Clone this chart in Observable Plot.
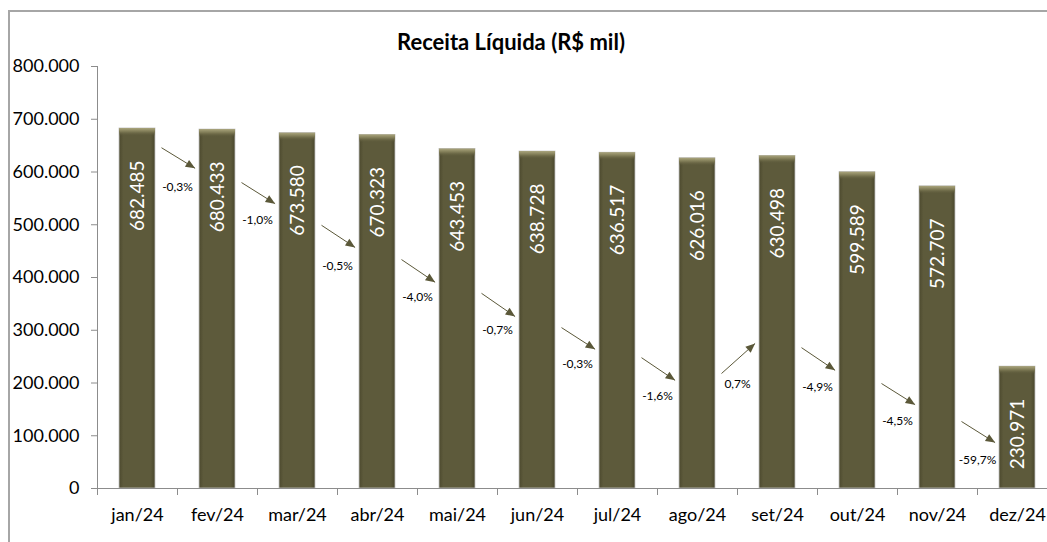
<!DOCTYPE html>
<html>
<head>
<meta charset="utf-8">
<script src="https://cdn.jsdelivr.net/npm/d3@7"></script>
<script src="https://cdn.jsdelivr.net/npm/@observablehq/plot@0.6"></script>
<style>
  html, body { margin: 0; padding: 0; background: #fff; overflow: hidden; }
  #wrap { position: relative; width: 1047px; height: 542px; overflow: hidden; font-family: Lato, "Open Sans", sans-serif; }
  #chart { position: absolute; left: 0; top: 0; }
  #frame { position: absolute; left: 8px; top: 10px; width: 1200px; height: 700px; border: 2px solid #a6a6a6; box-sizing: border-box; pointer-events: none; }
  #title { position: absolute; left: 0; top: 31px; width: 1022px; text-align: center; font-weight: bold; font-size: 22px; line-height: 22px; color: #000; font-family: Lato, "Open Sans", sans-serif; }
</style>
</head>
<body>
<div id="wrap">
  <div id="chart"></div>
  <div id="title">Receita Líquida (R$ mil)</div>
  <div id="frame"></div>
</div>
<script>
// ---- data ----
const months = ["jan/24", "fev/24", "mar/24", "abr/24", "mai/24", "jun/24", "jul/24", "ago/24", "set/24", "out/24", "nov/24", "dez/24"];
const revenue = [682485, 680433, 673580, 670323, 643453, 638728, 636517, 626016, 630498, 599589, 572707, 230971];
const changeLabels = ["-0,3%", "-1,0%", "-0,5%", "-4,0%", "-0,7%", "-0,3%", "-1,6%", "0,7%", "-4,9%", "-4,5%", "-59,7%"];
// arrow annotation levels (value units)
const arrowFrom = [646000, 580000, 499000, 434000, 370000, 305000, 248000, 218000, 267000, 199000, 127000];
const arrowTo = [607000, 540000, 457000, 391000, 326000, 264000, 205000, 275000, 224000, 159000, 87000];
const changeLabelY = [571000, 508000, 421000, 362000, 301000, 235000, 176000, 197000, 192000, 127000, 53000];
const yTicks = [0, 100000, 200000, 300000, 400000, 500000, 600000, 700000, 800000];

// ---- tables ----
const bars = months.map((m, i) => ({i, month: m, value: revenue[i]}));
const changes = changeLabels.map((t, i) => ({i, label: t, y1: arrowFrom[i], y2: arrowTo[i], ly: changeLabelY[i]}));
const monthIdx = months.map((m, i) => i);
const bounds = months.map((m, i) => i - 0.5).concat([months.length - 0.5]);

const fmt = d3.formatLocale({decimal: ",", thousands: ".", grouping: [3], currency: ["R$ ", ""]}).format(",d");

function arrowHead(color, context) {
  const doc = (context && context.document) || document;
  const ns = "http://www.w3.org/2000/svg";
  const m = doc.createElementNS(ns, "marker");
  m.setAttribute("viewBox", "-10 -5 10 10");
  m.setAttribute("markerWidth", "10");
  m.setAttribute("markerHeight", "10");
  m.setAttribute("markerUnits", "userSpaceOnUse");
  m.setAttribute("orient", "auto");
  m.setAttribute("refX", "0");
  m.setAttribute("refY", "0");
  const p = doc.createElementNS(ns, "path");
  p.setAttribute("d", "M-9.5,-4L0,0L-9.5,4Z");
  p.setAttribute("fill", color);
  p.setAttribute("stroke", "none");
  m.appendChild(p);
  return m;
}

const axisGray = "#8c8c8c";
const arrowColor = "#5b5839";

const plot = Plot.plot({
  width: 1047,
  height: 542,
  marginLeft: 97,
  marginTop: 66,
  marginBottom: 54,
  marginRight: 0,
  style: {background: "transparent", fontFamily: "Lato, 'Open Sans', sans-serif", overflow: "hidden"},
  x: {type: "linear", domain: [-0.5, 11.5], range: [97, 1057], label: null},
  y: {domain: [0, 800000], range: [488, 66], label: null},
  marks: [
    Plot.rectY(bars, {x1: d => d.i - 0.225, x2: d => d.i + 0.225, y: "value", fill: "url(#barFill)", stroke: "#c2c2c2", strokeWidth: 0.8}),
    Plot.rect(bars, {x1: d => d.i - 0.225, x2: d => d.i + 0.225, y1: "value", y2: "value", insetBottom: -8, fill: "url(#capFill)"}),
    Plot.text(bars, {x: "i", y: "value", text: d => fmt(d.value), rotate: -90, textAnchor: "end", dy: 32, fill: "#ffffff", fontSize: 19}),
    Plot.link(changes, {x1: d => d.i + 0.3, x2: d => d.i + 0.72, y1: "y1", y2: "y2", stroke: arrowColor, strokeWidth: 1, markerEnd: arrowHead}),
    Plot.text(changes, {x: d => d.i + 0.5, y: "ly", text: "label", fontSize: 12, fill: "#000"}),
    Plot.ruleX([-0.5], {stroke: axisGray}),
    Plot.ruleY([0], {stroke: axisGray}),
    Plot.axisY({ticks: yTicks, tickFormat: fmt, tickSize: 6, tickPadding: 12, fontSize: 18, stroke: axisGray, fill: "#000"}),
    Plot.axisX({ticks: monthIdx, tickFormat: i => months[i], tickSize: 0, tickPadding: 20, fontSize: 18, fill: "#000"}),
    Plot.axisX({ticks: bounds, tickFormat: () => "", tickSize: 7, stroke: axisGray})
  ]
});

// gradients for the bevelled bars
const ns = "http://www.w3.org/2000/svg";
const defs = document.createElementNS(ns, "defs");
defs.innerHTML = `
  <linearGradient id="barFill" x1="0" y1="0" x2="1" y2="0">
    <stop offset="0" stop-color="#4c492e"/>
    <stop offset="0.12" stop-color="#5d5a3b"/>
    <stop offset="0.88" stop-color="#5d5a3b"/>
    <stop offset="1" stop-color="#4a472d"/>
  </linearGradient>
  <linearGradient id="capFill" x1="0" y1="0" x2="0" y2="1">
    <stop offset="0" stop-color="#aaa57c"/>
    <stop offset="0.45" stop-color="#7e7a55"/>
    <stop offset="1" stop-color="#5d5a3b" stop-opacity="0"/>
  </linearGradient>`;
plot.insertBefore(defs, plot.firstChild);
document.getElementById("chart").appendChild(plot);
</script>
</body>
</html>
